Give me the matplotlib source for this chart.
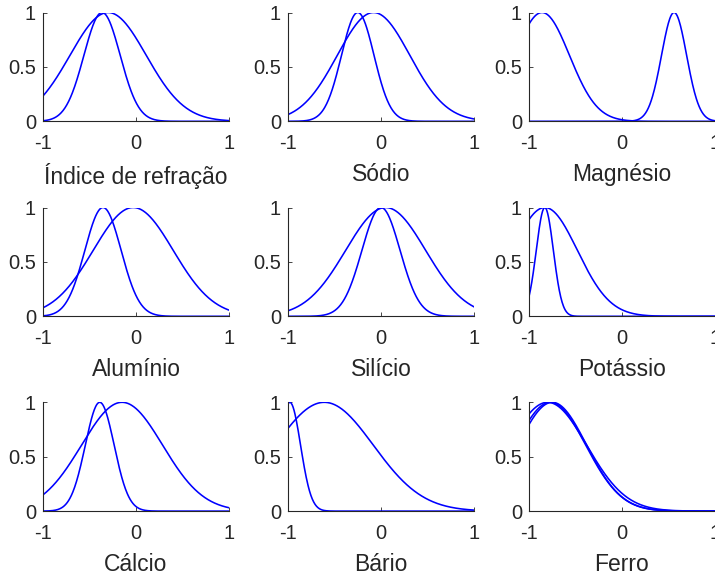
import numpy as np
import matplotlib
matplotlib.use("Agg")
import matplotlib.pyplot as plt

plt.rcParams['font.family'] = ['Liberation Sans', 'DejaVu Sans']
plt.rcParams['axes.unicode_minus'] = False

# input variables (normalised to [-1, 1]) and their gaussian membership functions
names = ['Índice de refração', 'Sódio', 'Magnésio',
         'Alumínio', 'Silício', 'Potássio',
         'Cálcio', 'Bário', 'Ferro']

# (centre, sigma) of each membership function
centers = [[-0.30, -0.365], [-0.08, -0.25], [-0.86, 0.56],
           [-0.03, -0.355], [0.05, 0.0], [-0.83, -0.83],
           [-0.15, -0.39], [-0.61, -0.98], [-0.80, -0.75, -0.77]]
sigmas = [[0.41, 0.195], [0.39, 0.175], [0.295, 0.135],
          [0.43, 0.195], [0.43, 0.205], [0.35, 0.092],
          [0.436, 0.155], [0.527, 0.115], [0.42, 0.37, 0.38]]

xticks = [-1, 0, 1]
xticklabels = ['-1', '0', '1']
yticks = [0, 0.5, 1]
yticklabels = ['0', '0.5', '1']


def gaussmf(x, c, s):
    return np.exp(-(x - c) ** 2 / (2 * s ** 2))


W, H = 715, 578
fig = plt.figure(figsize=(W / 100, H / 100), dpi=100)

col_left = [43, 288, 529]
row_top = [12.5, 207.5, 402.3]
ax_w, ax_h = 186, 108.8
axis_color = (0.15, 0.15, 0.15)

x = np.linspace(-1, 1, 400)
for i, name in enumerate(names):
    r, c = divmod(i, 3)
    ax = fig.add_axes([col_left[c] / W, 1 - (row_top[r] + ax_h) / H, ax_w / W, ax_h / H])
    for cc, ss in zip(centers[i], sigmas[i]):
        ax.plot(x, gaussmf(x, cc, ss), color=(0, 0, 1), lw=1.15)
    ax.set_xlim(-1, 1)
    ax.set_ylim(0, 1)
    ax.set_xticks(xticks)
    ax.set_xticklabels(xticklabels)
    ax.set_yticks(yticks)
    ax.set_yticklabels(yticklabels)
    for side in ['top', 'right']:
        ax.spines[side].set_visible(False)
    for side in ['left', 'bottom']:
        ax.spines[side].set_color(axis_color)
        ax.spines[side].set_linewidth(0.8)
    ax.tick_params(axis='x', direction='in', length=3, width=0.6, colors=axis_color,
                   labelsize=14.5, pad=9.5)
    ax.tick_params(axis='y', direction='in', length=3, width=0.6, colors=axis_color,
                   labelsize=14.5, pad=5)
    ax.set_xlabel(name, fontsize=16.5, color=axis_color, labelpad=7)

fig.savefig('out.png', dpi=100)
